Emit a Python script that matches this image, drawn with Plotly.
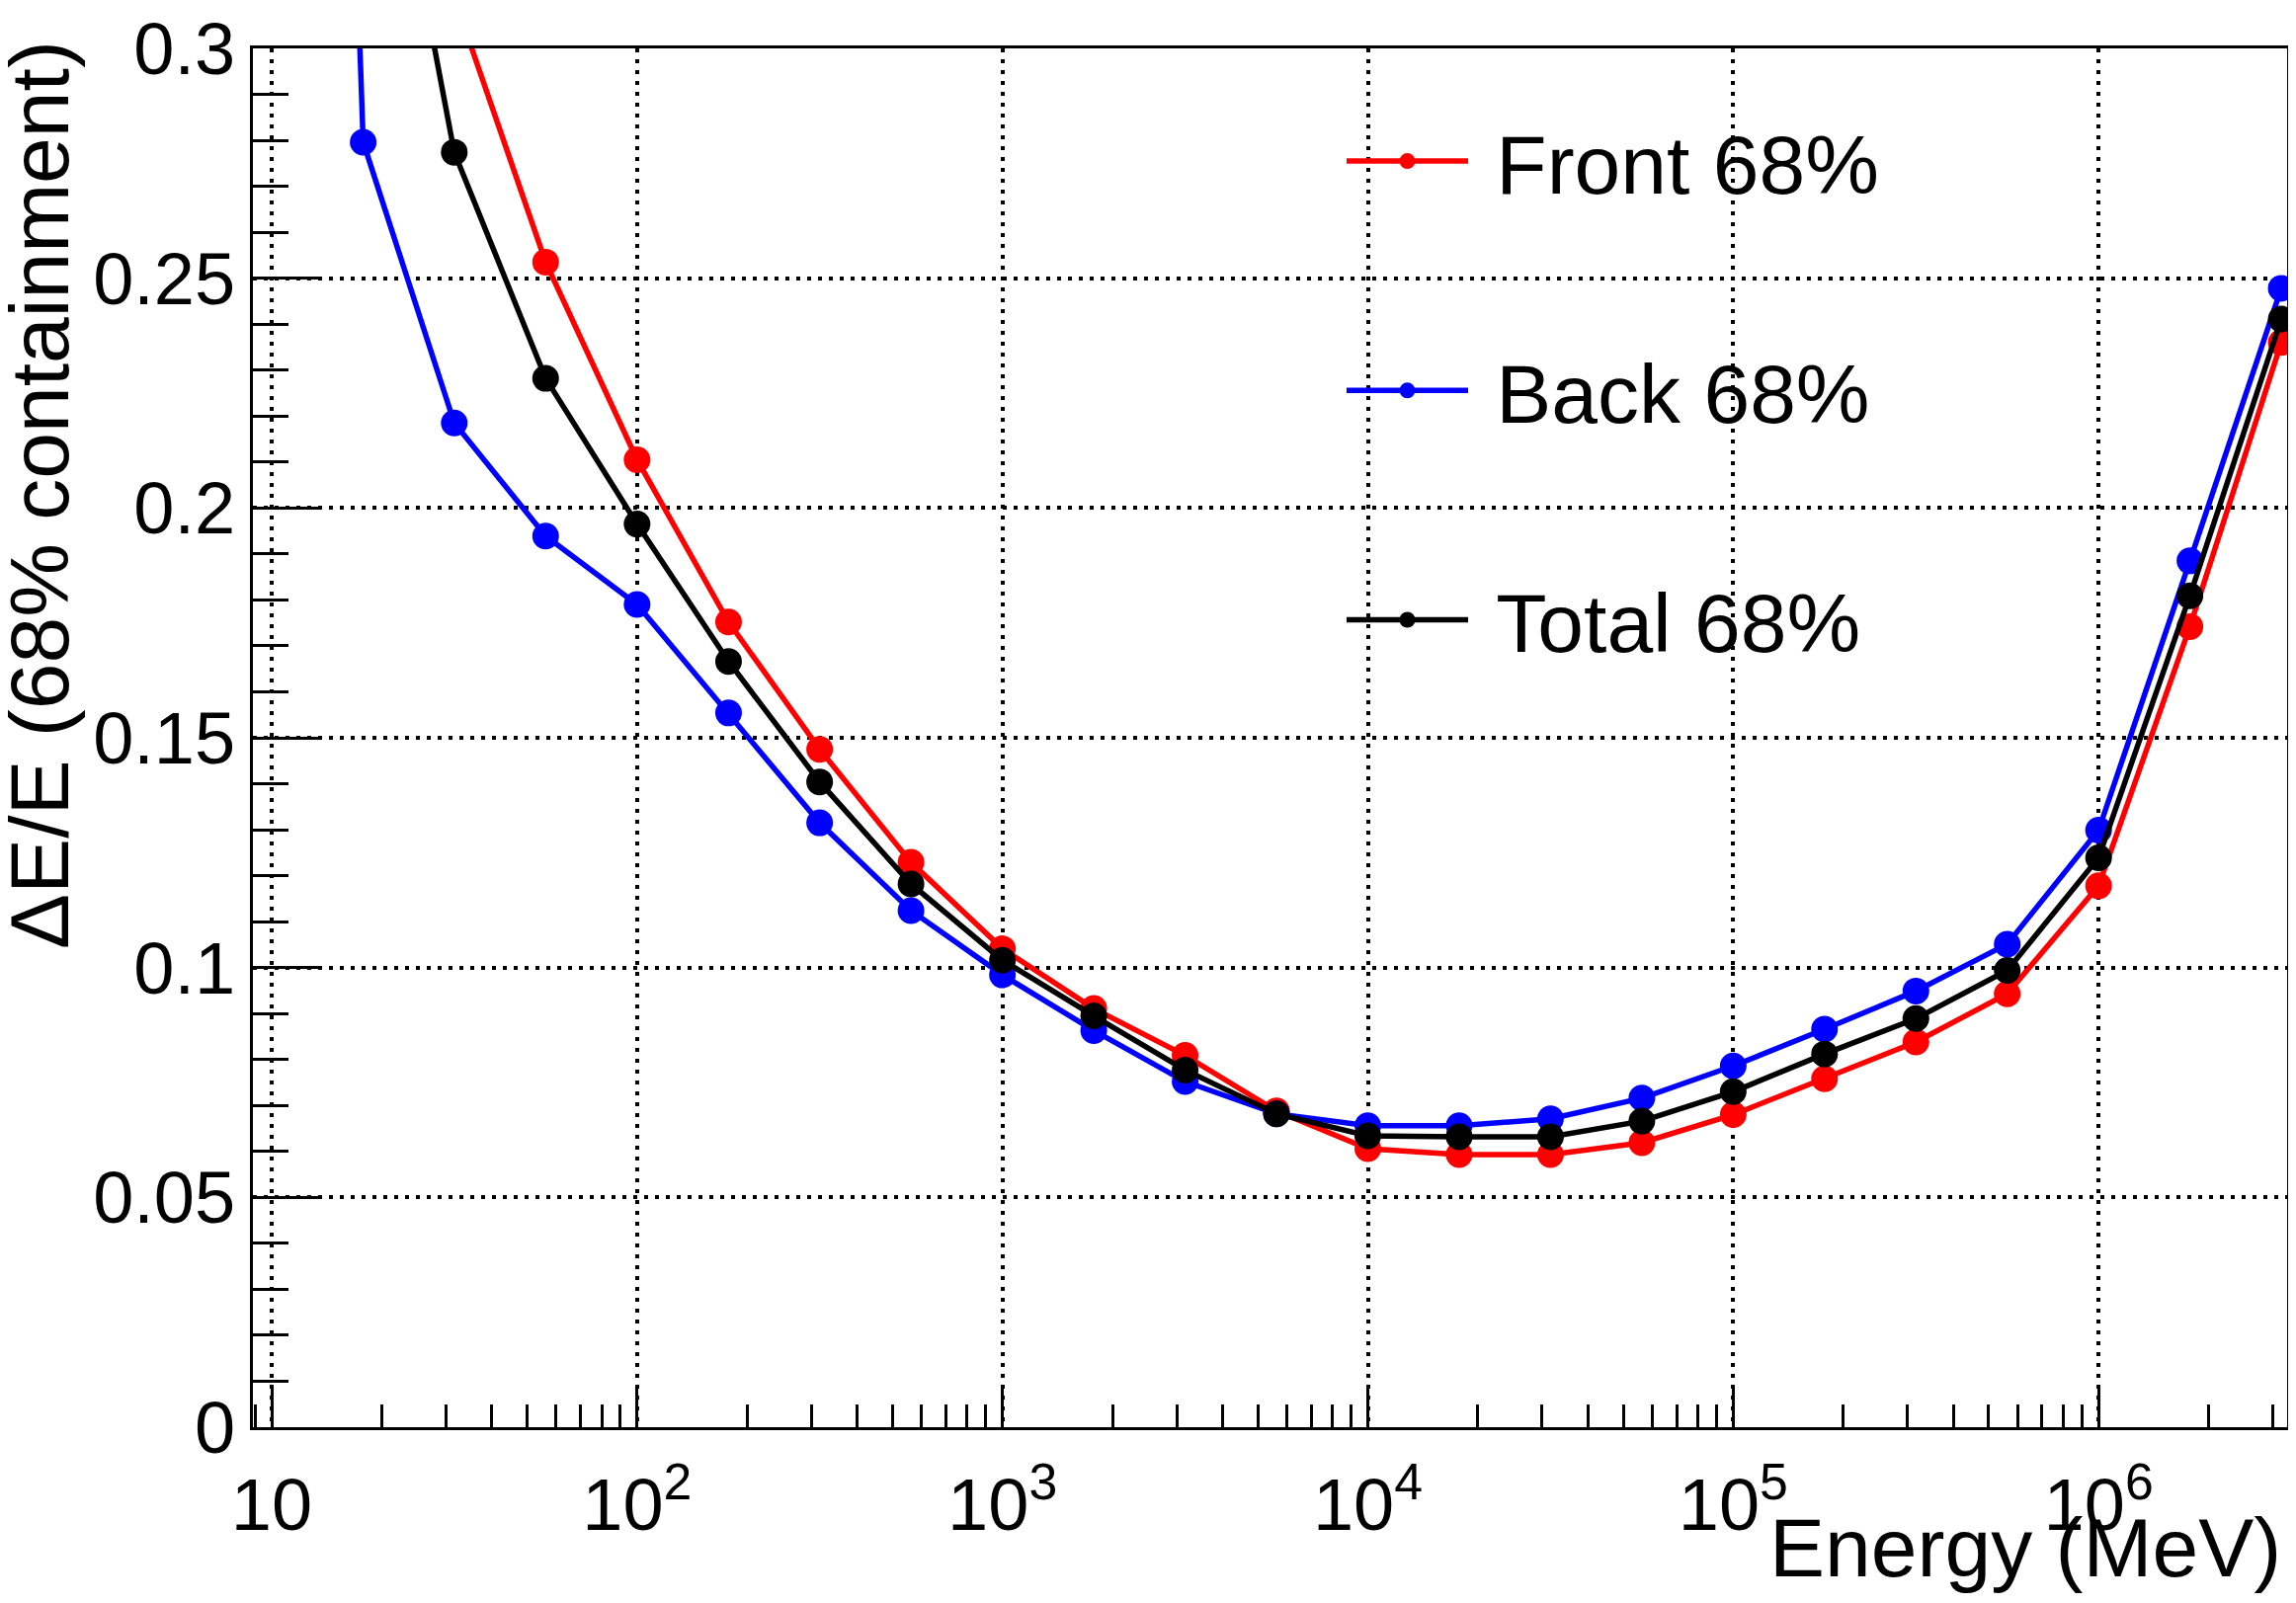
import plotly.graph_objects as go

# ---------------- data ----------------
energy_mev = [10, 17.8, 31.6, 56.2, 100, 178, 316, 562, 1000, 1778, 3162, 5623,
              10000, 17783, 31623, 56234, 100000, 177828, 316228, 562341,
              1000000, 1778279, 3162278]

front_68 = [None, None, 0.311, 0.2535, 0.2105, 0.1752, 0.1475, 0.1229, 0.1041,
            0.0911, 0.0809, 0.0688, 0.0606, 0.0593, 0.0593, 0.0619, 0.0680,
            0.0758, 0.0838, 0.0943, 0.1178, 0.1742, 0.2360]

back_68 = [0.85, 0.2796, 0.2185, 0.1939, 0.1790, 0.1554, 0.1315, 0.1124, 0.0984,
           0.0863, 0.0752, 0.0682, 0.0656, 0.0656, 0.0671, 0.0716, 0.0786,
           0.0866, 0.0949, 0.1051, 0.1299, 0.1885, 0.2478]

total_68 = [None, 0.382, 0.2774, 0.2282, 0.1965, 0.1666, 0.1404, 0.1182, 0.1016,
            0.0895, 0.0777, 0.0682, 0.0634, 0.0632, 0.0632, 0.0666, 0.0730,
            0.0812, 0.0889, 0.0994, 0.1239, 0.1809, 0.2411]

series_names = ["Front 68%", "Back 68%", "Total 68%"]
series_colors = ["#ff0000", "#0000ff", "#000000"]

x_tick_vals = [10, 100, 1000, 10000, 100000, 1000000]
x_tick_text = ["10", "10<sup>2</sup>", "10<sup>3</sup>", "10<sup>4</sup>",
               "10<sup>5</sup>", "10<sup>6</sup>"]
x_minor_vals = [9, 20, 30, 40, 50, 60, 70, 80, 90,
                200, 300, 400, 500, 600, 700, 800, 900,
                2000, 3000, 4000, 5000, 6000, 7000, 8000, 9000,
                20000, 30000, 40000, 50000, 60000, 70000, 80000, 90000,
                200000, 300000, 400000, 500000, 600000, 700000, 800000, 900000,
                2000000, 3000000]
y_tick_vals = [0, 0.05, 0.1, 0.15, 0.2, 0.25, 0.3]
y_tick_text = ["0", "0.05", "0.1", "0.15", "0.2", "0.25", "0.3"]

x_title = "Energy (MeV)"
y_title = "ΔE/E (68% containment)"

# ---------------- figure ----------------
# page body has an 8px margin, so the figure is made 16px smaller and every
# pixel position below is given in reference coordinates and converted
OFF = 8
W, H = 2324 - 2 * OFF, 1623 - 2 * OFF
L, T = 256 - OFF, 49 - OFF
R = W - (2315 - OFF)
B = H - (1445 - OFF)
PW, PH = W - L - R, H - T - B


def px_x(p):
    return (p - OFF - L) / PW


def px_y(p):
    return 1 - (p - OFF - T) / PH


fig = go.Figure()
for name, vals, color in zip(series_names, [front_68, back_68, total_68], series_colors):
    fig.add_trace(go.Scatter(
        x=energy_mev, y=vals, mode="lines+markers", name="\u00a0" + name,
        legendgroup=name, connectgaps=False,
        line=dict(color=color, width=5.5),
        marker=dict(color=color, size=27, symbol="circle"),
    ))

FONT = "Liberation Sans, Arial, Helvetica, sans-serif"
axis_common = dict(
    showline=True, linecolor="black", linewidth=3, mirror=True,
    ticks="inside", tickcolor="black", tickwidth=3,
    showgrid=True, gridcolor="black", gridwidth=3.5, griddash="4px,7px",
    zeroline=False, tickfont=dict(family=FONT, size=74, color="black"),
    ticklabeloverflow="allow",
)

fig.update_layout(
    width=W, height=H,
    margin=dict(l=L, r=R, t=T, b=B, autoexpand=False),
    paper_bgcolor="white", plot_bgcolor="white",
    font=dict(family=FONT, color="black", size=74),
    showlegend=True,
    legend=dict(x=px_x(1358), y=px_y(102), xanchor="left", yanchor="top",
                bgcolor="rgba(0,0,0,0)", borderwidth=0,
                font=dict(family=FONT, size=84, color="black"),
                itemwidth=123, tracegroupgap=120, traceorder="grouped"),
    xaxis=dict(type="log", range=[0.9486, 6.516],
               tickmode="array", tickvals=x_tick_vals, ticktext=x_tick_text,
               ticklen=41, ticklabelstandoff=12,
               minor=dict(tickmode="array", tickvals=x_minor_vals, ticks="inside",
                          ticklen=23, tickwidth=3, tickcolor="black", showgrid=False),
               **axis_common),
    yaxis=dict(range=[0, 0.3],
               tickmode="array", tickvals=y_tick_vals, ticktext=y_tick_text,
               ticklen=69, ticklabelstandoff=0,
               minor=dict(tickmode="linear", tick0=0, dtick=0.01, ticks="inside",
                          ticklen=36, tickwidth=3, tickcolor="black", showgrid=False),
               **axis_common),
    annotations=[
        dict(text=x_title, xref="paper", yref="paper",
             x=px_x(2311), y=px_y(1616), xanchor="right", yanchor="bottom",
             showarrow=False, font=dict(family=FONT, size=84, color="black")),
        dict(text=y_title, xref="paper", yref="paper", textangle=-90,
             x=px_x(40), y=px_y(501), xanchor="center", yanchor="middle",
             showarrow=False, font=dict(family=FONT, size=84, color="black")),
    ],
)

fig.write_html("out.html")
